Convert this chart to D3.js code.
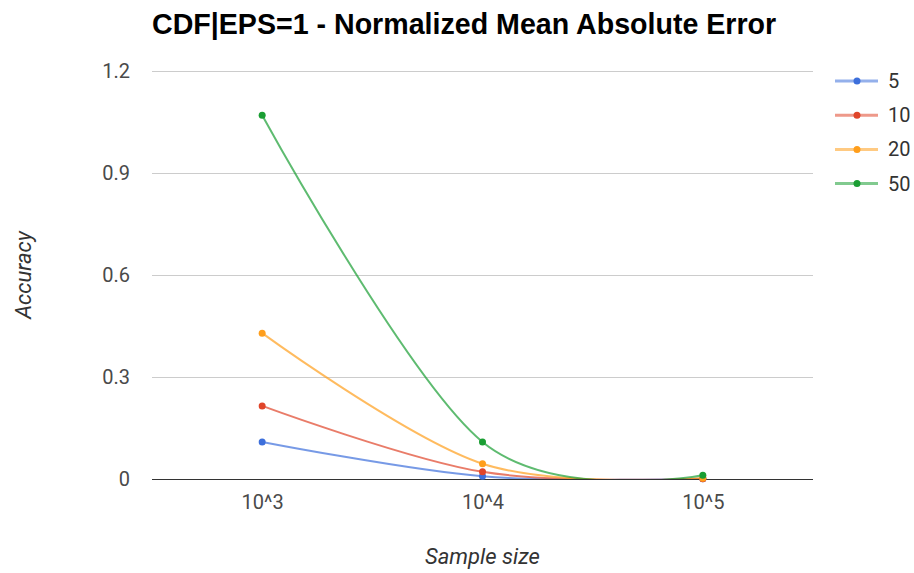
<!DOCTYPE html>
<html>
<head>
<meta charset="utf-8">
<script src="https://cdn.jsdelivr.net/npm/d3@7"></script>
<style>
  html, body { margin: 0; padding: 0; background: #fff; }
  svg { display: block; font-family: "Liberation Sans", Arial, sans-serif; }
</style>
</head>
<body>
<svg id="chart" width="914" height="573"></svg>
<script>
// Sample sizes on the x axis
const sampleSizes = ["10^3", "10^4", "10^5"];
// Series names (legend) and their colours
const seriesNames = ["5", "10", "20", "50"];
const seriesColors = ["#3d6fdb", "#e0452a", "#ff9e1b", "#1a9e33"];
// Normalized mean absolute error per series, one value per sample size
const err5  = [0.109, 0.008, 0.0005];
const err10 = [0.215, 0.021, 0.001];
const err20 = [0.429, 0.045, 0.002];
const err50 = [1.070, 0.109, 0.011];
const yTicks = [0, 0.3, 0.6, 0.9, 1.2];

const titleText = "CDF|EPS=1 - Normalized Mean Absolute Error";
const xTitle = "Sample size";
const yTitle = "Accuracy";

const seriesValues = [err5, err10, err20, err50];
const series = seriesNames.map((name, i) => ({
  name, color: seriesColors[i],
  points: sampleSizes.map((s, j) => ({ x: s, y: seriesValues[i][j] }))
}));

const labelFont = "Roboto, 'Liberation Sans', Arial, sans-serif";
const svg = d3.select("#chart");
const plot = { left: 152, right: 813, top: 71, bottom: 479 };

const x = d3.scalePoint().domain(sampleSizes)
  .range([plot.left, plot.right]).padding(0.5);
const y = d3.scaleLinear().domain([0, 1.2]).range([plot.bottom, plot.top]);

// Smooth curve: interior control points follow the neighbour chord (1/6),
// end control points sit on the end points themselves.
function curveSmooth(context) {
  let pts = [];
  return {
    areaStart() {}, areaEnd() {},
    lineStart() { pts = []; },
    point(px, py) { pts.push([+px, +py]); },
    lineEnd() {
      const n = pts.length;
      if (!n) return;
      context.moveTo(pts[0][0], pts[0][1]);
      for (let i = 0; i < n - 1; i++) {
        const p0 = pts[i], p1 = pts[i + 1];
        const c1 = i === 0 ? p0 :
          [p0[0] + (p1[0] - pts[i - 1][0]) / 6, p0[1] + (p1[1] - pts[i - 1][1]) / 6];
        const c2 = i + 1 === n - 1 ? p1 :
          [p1[0] - (pts[i + 2][0] - p0[0]) / 6, p1[1] - (pts[i + 2][1] - p0[1]) / 6];
        context.bezierCurveTo(c1[0], c1[1], c2[0], c2[1], p1[0], p1[1]);
      }
    }
  };
}

// Title
svg.append("text")
  .attr("x", plot.left).attr("y", 34)
  .attr("font-size", 28.6).attr("font-weight", "bold").attr("fill", "#000")
  .text(titleText);

// Horizontal gridlines
svg.append("g").selectAll("line").data(yTicks.filter(d => d > 0)).join("line")
  .attr("x1", plot.left).attr("x2", plot.right)
  .attr("y1", d => y(d) + 0.5).attr("y2", d => y(d) + 0.5)
  .attr("stroke", "#cccccc").attr("stroke-width", 1);

// Y axis labels
const yAxis = d3.axisLeft(y).tickValues(yTicks).tickSize(0).tickPadding(0)
  .tickFormat(d => d === 0 ? "0" : d3.format(".1f")(d));
const yg = svg.append("g").attr("transform", `translate(${plot.left - 22},0)`).call(yAxis);
yg.select(".domain").remove();
yg.selectAll("text").attr("font-size", 20).attr("fill", "#4a4a4a").attr("font-family", labelFont);

// X axis labels
const xAxis = d3.axisBottom(x).tickSize(0).tickPadding(0);
const xg = svg.append("g").attr("transform", `translate(0,${plot.bottom + 16})`).call(xAxis);
xg.select(".domain").remove();
xg.selectAll("text").attr("font-size", 20).attr("fill", "#4a4a4a").attr("font-family", labelFont);

// Axis titles
svg.append("text")
  .attr("transform", `translate(31,${(plot.top + plot.bottom) / 2}) rotate(-90)`)
  .attr("text-anchor", "middle").attr("font-size", 22).attr("font-style", "italic")
  .attr("fill", "#333").attr("font-family", labelFont)
  .text(yTitle);
svg.append("text")
  .attr("x", x("10^4")).attr("y", 564)
  .attr("text-anchor", "middle").attr("font-size", 22).attr("font-style", "italic")
  .attr("fill", "#333").attr("font-family", labelFont)
  .text(xTitle);

// Clip lines to the plotting area
svg.append("clipPath").attr("id", "plot-clip").append("rect")
  .attr("x", plot.left).attr("y", plot.top - 10)
  .attr("width", plot.right - plot.left).attr("height", plot.bottom - plot.top + 10);

const line = d3.line().x(d => x(d.x)).y(d => y(d.y)).curve(curveSmooth);

const lines = svg.append("g").attr("clip-path", "url(#plot-clip)");
lines.selectAll("path").data(series).join("path")
  .attr("d", d => line(d.points))
  .attr("fill", "none").attr("stroke", d => d.color)
  .attr("stroke-opacity", 0.7).attr("stroke-width", 2);

// Baseline
svg.append("line")
  .attr("x1", plot.left).attr("x2", plot.right)
  .attr("y1", plot.bottom + 0.5).attr("y2", plot.bottom + 0.5)
  .attr("stroke", "#333").attr("stroke-width", 1.2);

// Points
const pts = svg.append("g");
series.forEach(s => {
  pts.append("g").selectAll("circle").data(s.points).join("circle")
    .attr("cx", d => x(d.x)).attr("cy", d => y(d.y)).attr("r", 3.5)
    .attr("fill", s.color);
});

// Legend
const legend = svg.append("g");
const rows = legend.selectAll("g").data(series).join("g")
  .attr("transform", (d, i) => `translate(835,${81 + i * 34.2})`);
rows.append("line").attr("x1", 0).attr("x2", 43).attr("y1", 0).attr("y2", 0)
  .attr("stroke", d => d.color).attr("stroke-opacity", 0.55).attr("stroke-width", 3);
rows.append("circle").attr("cx", 22).attr("cy", 0).attr("r", 3.5).attr("fill", d => d.color);
rows.append("text").attr("x", 53).attr("y", 7).attr("font-size", 20).attr("fill", "#333")
  .attr("font-family", labelFont)
  .text(d => d.name);
</script>
</body>
</html>
